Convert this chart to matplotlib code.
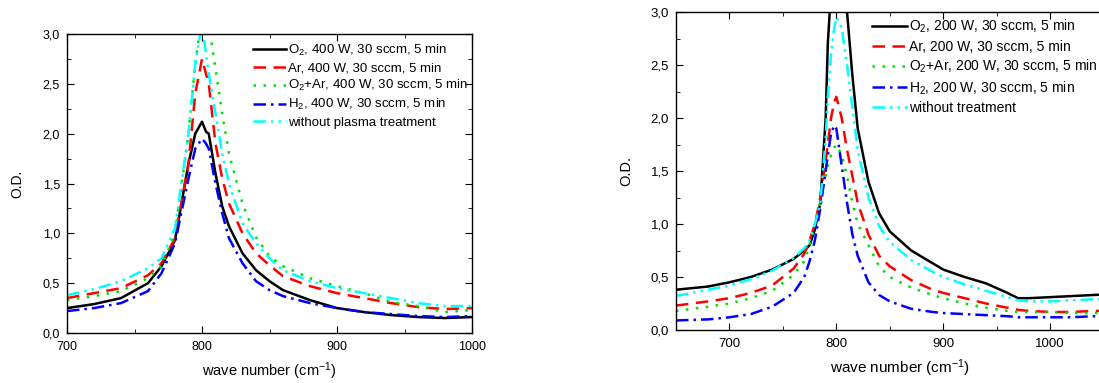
import matplotlib
matplotlib.use("Agg")
import matplotlib.pyplot as plt
from matplotlib.ticker import MultipleLocator, FuncFormatter

plt.rcParams['font.family'] = ['Liberation Sans', 'DejaVu Sans']
plt.rcParams['mathtext.fontset'] = 'custom'
plt.rcParams['mathtext.rm'] = 'Liberation Sans'
plt.rcParams['mathtext.default'] = 'regular'

# left panel: 400 W
x400 = [700, 720, 740, 760, 770, 780, 790, 795, 800, 803, 805, 810, 815, 820, 830, 840,
        850, 860, 880, 900, 920, 940, 960, 980, 1000]
o2_400 = [0.25, 0.29, 0.35, 0.50, 0.67, 0.93, 1.70, 2.00, 2.12, 2.02, 2.00, 1.60, 1.27,
          1.07, 0.80, 0.63, 0.52, 0.43, 0.33, 0.25, 0.21, 0.18, 0.16, 0.15, 0.16]
ar_400 = [0.35, 0.40, 0.45, 0.58, 0.70, 0.95, 1.70, 2.40, 2.75, 2.60, 2.50, 1.90, 1.55,
          1.30, 1.00, 0.80, 0.68, 0.57, 0.47, 0.40, 0.35, 0.30, 0.26, 0.24, 0.25]
o2ar_400 = [0.33, 0.37, 0.42, 0.55, 0.67, 1.00, 2.00, 2.70, 3.20, 3.15, 3.10, 2.65, 2.20,
            1.80, 1.30, 0.96, 0.77, 0.67, 0.55, 0.47, 0.40, 0.31, 0.27, 0.21, 0.23]
h2_400 = [0.22, 0.25, 0.30, 0.42, 0.60, 0.90, 1.55, 1.85, 1.95, 1.90, 1.85, 1.50, 1.20,
          0.95, 0.70, 0.52, 0.43, 0.37, 0.30, 0.25, 0.21, 0.19, 0.17, 0.16, 0.17]
none_400 = [0.38, 0.44, 0.52, 0.65, 0.75, 1.05, 2.00, 2.70, 3.10, 2.80, 2.60, 2.20, 1.80,
            1.50, 1.10, 0.90, 0.75, 0.63, 0.52, 0.45, 0.40, 0.35, 0.30, 0.27, 0.27]

# right panel: 200 W
x200 = [650, 680, 700, 720, 740, 760, 770, 775, 780, 785, 790, 792, 795, 798, 800, 805,
        810, 815, 820, 830, 840, 850, 870, 890, 900, 920, 940, 960, 970, 980, 1000, 1020,
        1040, 1060, 1080]
o2_200 = [0.38, 0.41, 0.45, 0.50, 0.57, 0.67, 0.75, 0.80, 0.95, 1.20, 2.00, 2.70, 3.20,
          3.20, 3.20, 3.10, 3.00, 2.40, 1.90, 1.40, 1.10, 0.93, 0.75, 0.63, 0.57, 0.50,
          0.44, 0.35, 0.30, 0.30, 0.31, 0.32, 0.33, 0.34, 0.35]
ar_200 = [0.23, 0.27, 0.30, 0.35, 0.42, 0.58, 0.72, 0.85, 1.00, 1.25, 1.60, 1.75, 2.00,
          2.15, 2.20, 2.00, 1.70, 1.45, 1.20, 0.90, 0.70, 0.60, 0.47, 0.38, 0.35, 0.30,
          0.25, 0.21, 0.19, 0.18, 0.17, 0.17, 0.18, 0.18, 0.18]
o2ar_200 = [0.18, 0.22, 0.25, 0.30, 0.37, 0.52, 0.65, 0.80, 1.00, 1.20, 1.45, 1.55, 1.65,
            1.72, 1.75, 1.65, 1.45, 1.20, 1.00, 0.80, 0.60, 0.50, 0.40, 0.33, 0.30, 0.25,
            0.21, 0.18, 0.17, 0.17, 0.17, 0.16, 0.16, 0.16, 0.16]
h2_200 = [0.09, 0.10, 0.12, 0.15, 0.22, 0.35, 0.50, 0.65, 0.85, 1.15, 1.50, 1.65, 1.85,
          1.93, 1.90, 1.55, 1.20, 0.90, 0.70, 0.45, 0.33, 0.27, 0.20, 0.17, 0.16, 0.15,
          0.14, 0.13, 0.12, 0.12, 0.12, 0.12, 0.13, 0.13, 0.13]
none_200 = [0.32, 0.38, 0.42, 0.48, 0.56, 0.68, 0.77, 0.85, 1.00, 1.20, 1.80, 2.20, 2.60,
            2.85, 2.95, 2.85, 2.50, 2.10, 1.70, 1.25, 0.98, 0.83, 0.66, 0.55, 0.50, 0.43,
            0.37, 0.31, 0.28, 0.27, 0.27, 0.28, 0.29, 0.29, 0.30]

styles = [
    dict(color='black', linestyle='-'),
    dict(color='#ff0000', linestyle=(0, (5, 3))),
    dict(color='#00e000', linestyle=(0, (1, 3))),
    dict(color='#0000ff', linestyle=(0, (5, 2, 1, 2))),
    dict(color='#00ffff', linestyle=(0, (5, 2, 1, 2, 1, 2))),
]
labels_400 = ['O$_2$, 400 W, 30 sccm, 5 min', 'Ar, 400 W, 30 sccm, 5 min',
              'O$_2$+Ar, 400 W, 30 sccm, 5 min', 'H$_2$, 400 W, 30 sccm, 5 min',
              'without plasma treatment']
labels_200 = ['O$_2$, 200 W, 30 sccm, 5 min', 'Ar, 200 W, 30 sccm, 5 min',
              'O$_2$+Ar, 200 W, 30 sccm, 5 min', 'H$_2$, 200 W, 30 sccm, 5 min',
              'without treatment']

W, H = 1099, 383
fig = plt.figure(figsize=(W / 100, H / 100), dpi=100)
# left: 700..1000 over 405 px; right: 650..1070 at ~1.07 px/unit (cut by figure edge)
ax1 = fig.add_axes([67 / W, (H - 333) / H, 405 / W, 299 / H])
ax2 = fig.add_axes([676 / W, (H - 330) / H, 449 / W, 318 / H])

comma = FuncFormatter(lambda v, p: ('%.1f' % v).replace('.', ','))


def panel(ax, x, series, labels, xlim, fs, leg_xy):
    for y, st, lab in zip(series, styles, labels):
        ax.plot(x, y, lw=1.8, label=lab, **st)
    ax.set_xlim(*xlim)
    ax.set_ylim(0, 3)
    ax.xaxis.set_major_locator(MultipleLocator(100))
    ax.xaxis.set_minor_locator(MultipleLocator(50))
    ax.yaxis.set_major_locator(MultipleLocator(0.5))
    ax.yaxis.set_minor_locator(MultipleLocator(0.25))
    ax.yaxis.set_major_formatter(comma)
    ax.tick_params(which='both', direction='in', top=True, right=True, labelsize=fs)
    ax.tick_params(which='major', length=5)
    ax.tick_params(which='minor', length=3)
    ax.tick_params(axis='x', which='major', pad=6)
    ax.tick_params(axis='y', which='major', pad=5)
    for s in ax.spines.values():
        s.set_linewidth(1.0)
    ax.set_xlabel('wave number (cm$^{-1}$)', fontsize=fs + 1.5, labelpad=5)
    ax.set_ylabel('O.D.', fontsize=fs + 1)
    ax.legend(loc='upper left', bbox_to_anchor=leg_xy, bbox_transform=fig.transFigure,
              frameon=False, fontsize=fs + 0.5, handlelength=2.5, handletextpad=0.15,
              labelspacing=0.3, borderpad=0, borderaxespad=0)


panel(ax1, x400, [o2_400, ar_400, o2ar_400, h2_400, none_400], labels_400,
      (700, 1000), 9, (253 / W, (H - 43) / H))
panel(ax2, x200, [o2_200, ar_200, o2ar_200, h2_200, none_200], labels_200,
      (650, 1070), 9.5, (872 / W, (H - 18) / H))
ax1.yaxis.set_label_coords((24 - 67) / 405, 0.5)
ax2.yaxis.set_label_coords((633 - 676) / 449, 0.5)

fig.savefig('out.png', dpi=100)
